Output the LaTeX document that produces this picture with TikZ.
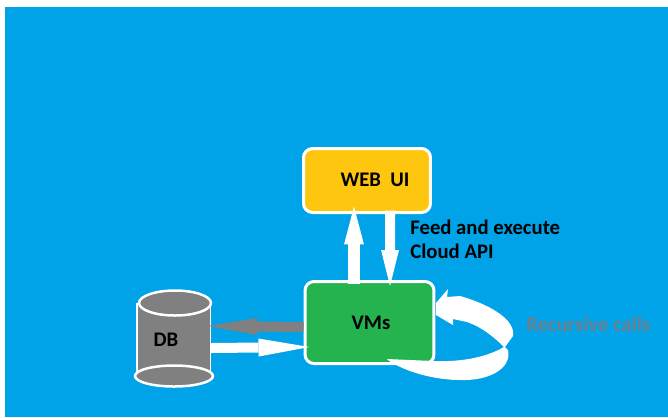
\documentclass[tikz,border=0pt]{standalone}
\usepackage{fontspec}
\setmainfont{Carlito}
\usepackage{xcolor}
\usetikzlibrary{arrows.meta,shapes.geometric}
\definecolor{skyback}{HTML}{00A2E8}
\definecolor{webyellow}{HTML}{FFC60F}
\definecolor{vmgreen}{HTML}{25B350}
\definecolor{dbgray}{HTML}{808080}
\definecolor{callgray}{HTML}{6E7F8B}
\tikzset{
	box/.style={draw=white,line width=0.06cm,rounded corners=0.18cm,outer sep=0pt},
	can/.style={ellipse,draw=white,line width=0.05cm,fill=dbgray,outer sep=0pt},
	lbl/.style={font=\fontsize{11.8}{14}\selectfont\bfseries,text=black,inner sep=0pt}
}
\begin{document}
\begin{tikzpicture}[x=0.02cm,y=-0.02cm]
	\useasboundingbox (0,0) rectangle (668,417);
	\fill[white] (0,0) rectangle (668,417);
	\fill[skyback] (5,7) rectangle (668,417);
	%
	%  BOXES
	%
	\node[box,fill=webyellow,minimum width=2.54cm,minimum height=1.28cm] (WEB) at (367,180.5) {};
	\node[box,fill=vmgreen,minimum width=2.58cm,minimum height=1.64cm] (VM) at (369.5,322.5) {};
	\node[fill=dbgray,minimum width=1.48cm,minimum height=1.46cm,inner sep=0pt,outer sep=0pt] (DB) at (174,339.5) {};
	\draw[white,line width=0.05cm] (DB.north west) -- (DB.south west);
	\draw[white,line width=0.02cm] (DB.north east) -- (DB.south east);
	\node[can,minimum width=1.44cm,minimum height=0.5cm] (DBT) at (175,303) {};
	\node[can,minimum width=1.56cm,minimum height=0.42cm] (DBB) at (174,376) {};
	%
	%  LABELS
	%
	\node[lbl] (WEBL) at (375,180) {WEB\ \ UI};
	\node[lbl] (VML) at (371,323) {VMs};
	\node[lbl] (DBL) at (166,340) {DB};
	\node[lbl,anchor=west] (FEED) at (410,227) {Feed and execute};
	\node[lbl,anchor=west] (API) at (410,251) {Cloud API};
	\node[lbl,text=callgray,anchor=west] (REC) at (526,324) {Recursive calls};
	%
	%  ARROWS
	%
	\draw[white,line width=0.24cm,-{Triangle[length=0.76cm,width=0.4cm,line width=0pt]}]
	([shift={(-15.5,2)}]VM.north) -- ([shift={(-13,-6)}]WEB.south);
	\draw[white,line width=0.2cm,-{Triangle[length=0.72cm,width=0.36cm,line width=0pt]}]
	([shift={(23,-2)}]WEB.south) -- ([shift={(20.5,4.5)}]VM.north);
	\draw[dbgray,line width=0.2cm,-{Triangle[length=0.98cm,width=0.34cm,line width=0pt]}]
	([shift={(-1.5,4.5)}]VM.west) -- ([shift={(-3,-13.5)}]DB.east);
	\draw[white,line width=0.2cm,-{Triangle[length=1.02cm,width=0.36cm,line width=0pt]}]
	([shift={(0,8.5)}]DB.east) -- ([shift={(4.5,24.5)}]VM.west);
	%
	%  RECURSIVE CALL
	%
	\coordinate (TIP) at ([shift={(2,-19.5)}]VM.east);
	\coordinate (TAIL) at ([shift={(-46,37.5)}]VM.east);
	\fill[white] (TIP) -- (448,289) -- (447,297) -- (460,296)
	.. controls (485,303) and (516,318) .. (513,336)
	-- (505,347) -- (508,350)
	.. controls (512,368) and (490,381) .. (460,380)
	.. controls (435,380) and (405,372) .. (TAIL)
	-- (387,359) -- (433,361)
	.. controls (460,362) and (485,358) .. (504,347)
	.. controls (495,338) and (482,327) .. (467,322)
	-- (453,319) -- (453,325) -- (436,315) -- cycle;
\end{tikzpicture}
\end{document}
